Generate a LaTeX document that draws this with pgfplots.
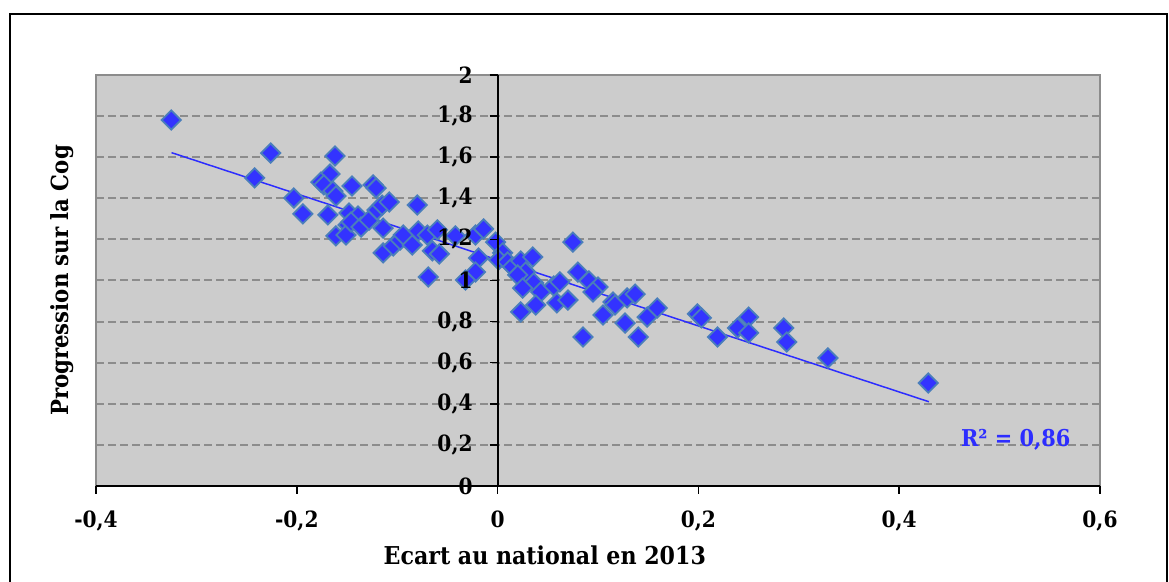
\documentclass[border=0pt]{standalone}
\usepackage{fontspec}
\setmainfont{DejaVu Serif Condensed}
\usepackage{pgfplots}
\usepackage{pgfplotstable}
\pgfplotsset{compat=1.18}
\definecolor{ptfill}{RGB}{51,51,255}
\definecolor{ptedge}{RGB}{74,126,187}
\definecolor{bg}{RGB}{204,204,204}
\definecolor{gridc}{RGB}{140,140,140}
\definecolor{trend}{RGB}{45,45,255}

\pgfplotsset{
  common/.style={
    at={(48pt,48pt)}, anchor=south west,
    scale only axis, width=502pt, height=205.5pt,
    xmin=-0.4, xmax=0.6, ymin=0, ymax=2,
    xtick={-0.4,-0.2,0,0.2,0.4,0.6},
    ytick={0,0.2,0.4,0.6,0.8,1,1.2,1.4,1.6,1.8,2},
    clip=false,
  }
}

\pgfplotstableread{
x y
-0.325 1.781
-0.226 1.620
-0.242 1.499
-0.203 1.401
-0.194 1.324
-0.162 1.606
-0.167 1.518
-0.176 1.479
-0.173 1.465
-0.164 1.435
-0.161 1.411
-0.169 1.319
-0.161 1.217
-0.145 1.460
-0.124 1.465
-0.121 1.450
-0.148 1.328
-0.139 1.314
-0.149 1.270
-0.151 1.221
-0.146 1.285
-0.136 1.260
-0.128 1.294
-0.120 1.343
-0.115 1.367
-0.108 1.382
-0.114 1.255
-0.114 1.134
-0.104 1.168
-0.097 1.197
-0.094 1.221
-0.085 1.173
-0.080 1.367
-0.079 1.241
-0.070 1.221
-0.060 1.246
-0.065 1.144
-0.058 1.129
-0.069 1.017
-0.042 1.217
-0.022 1.221
-0.014 1.251
-0.019 1.109
-0.022 1.041
-0.032 1.002
-0.002 1.187
0.005 1.134
0.001 1.100
0.010 1.090
0.015 1.066
0.023 1.095
0.035 1.114
0.028 1.041
0.020 1.027
0.036 0.988
0.025 0.963
0.043 0.944
0.038 0.881
0.023 0.847
0.056 0.973
0.062 0.993
0.059 0.891
0.070 0.905
0.075 1.187
0.080 1.041
0.091 0.998
0.100 0.968
0.095 0.944
0.105 0.832
0.115 0.895
0.117 0.881
0.127 0.793
0.129 0.915
0.137 0.934
0.085 0.725
0.140 0.725
0.149 0.822
0.159 0.866
0.199 0.837
0.203 0.818
0.219 0.725
0.239 0.769
0.250 0.822
0.250 0.745
0.285 0.769
0.288 0.701
0.329 0.623
0.429 0.501
}\pointdata

\begin{document}
\begin{tikzpicture}
\useasboundingbox (0,0) rectangle (584.5pt,291pt);
\draw[black, line width=1.1pt] (5pt,-10pt) rectangle (583.5pt,284pt);
% layer 1: background, grid, data
\begin{axis}[
  common,
  axis background/.style={fill=bg},
  axis line style={draw=none},
  ymajorgrids,
  grid style={gridc, line width=1pt, dash pattern=on 4pt off 2pt},
  major tick length=0pt,
  xticklabels={}, yticklabels={},
]
\draw[gridc, line width=1pt] (rel axis cs:0,0) rectangle (rel axis cs:1,1);
\addplot[only marks, mark=square*, mark size=3.4pt,
  mark options={rotate=45, fill=ptfill, draw=ptedge, line width=0.9pt}]
  table[x=x, y=y] {\pointdata};
\addplot[trend, line width=0.75pt, no marks] coordinates {(-0.3247,1.622) (0.4296,0.410)};
\node[text=trend, font=\bfseries\fontsize{11.6}{14}\selectfont] at (axis cs:0.516,0.224) {R² = 0,86};
\end{axis}
% layer 2: axis lines, ticks, labels on top
\begin{axis}[
  common,
  axis x line*=bottom, axis y line*=center,
  hide obscured x ticks=false, hide obscured y ticks=false,
  tick align=outside,
  major tick length=4pt,
  tick style={black, line width=0.8pt},
  axis line style={black, line width=1pt},
  /pgf/number format/use comma,
  /pgf/number format/assume math mode=true,
  ticklabel style={font=\bfseries\fontsize{11.2}{13}\selectfont},
  yticklabel style={xshift=-5pt},
  xticklabel style={yshift=-5pt},
  xlabel={Ecart au national en 2013},
  ylabel={Progression sur la Cog},
  every axis x label/.style={at={(axis description cs:0.447,-0.168)}, anchor=center, font=\bfseries\fontsize{12.3}{14}\selectfont},
  every axis y label/.style={at={(axis description cs:-0.034,0.5)}, rotate=90, anchor=center, font=\bfseries\fontsize{11.8}{14}\selectfont},
]
\addplot[draw=none, no marks] coordinates {(0,0) (0.1,0.1)};
\end{axis}
\end{tikzpicture}
\end{document}
